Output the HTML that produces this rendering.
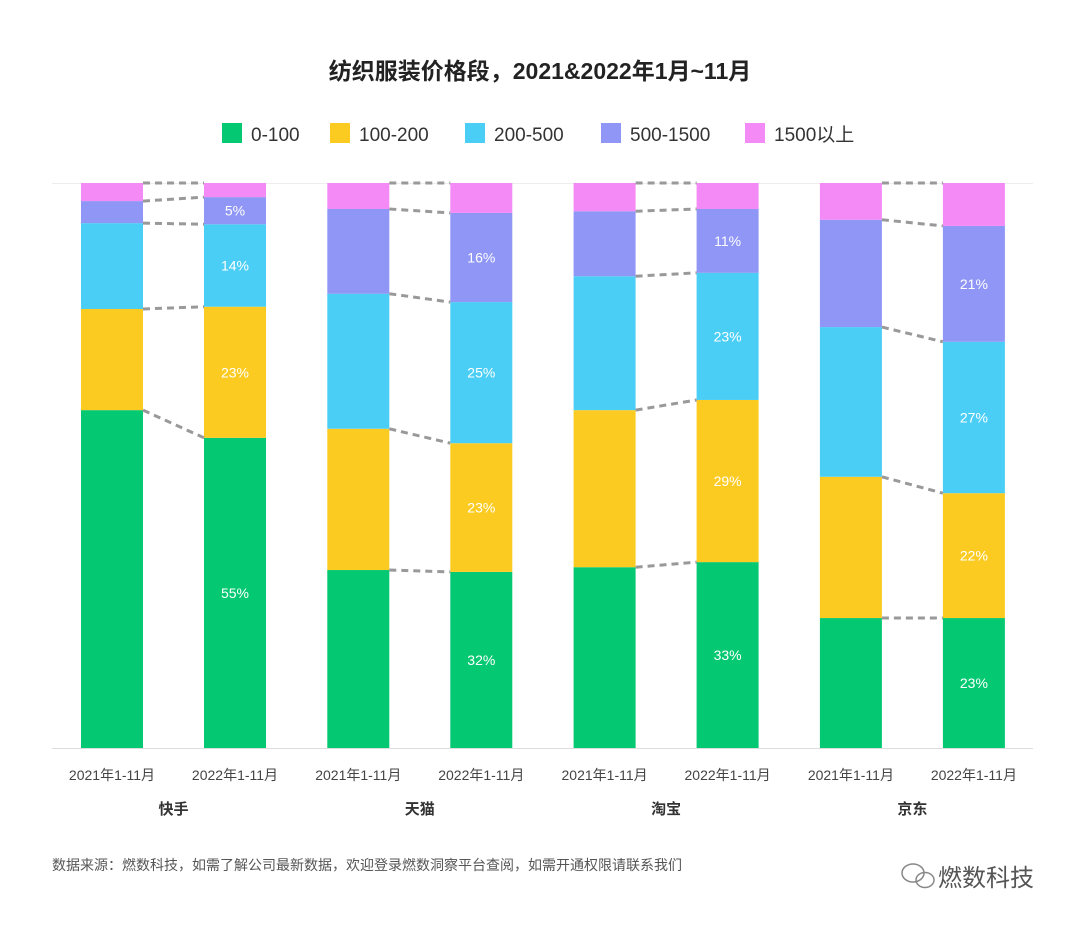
<!DOCTYPE html>
<html><head><meta charset="utf-8"><style>
body{margin:0;background:#fff;font-family:"Liberation Sans","Noto Sans CJK SC",sans-serif;}
#wrap{position:relative;width:1080px;height:925px;overflow:hidden;}
</style></head><body>
<div id="wrap">
<svg id="svg" width="1080" height="925" style="position:absolute;left:0;top:0">
<text x="540" y="79" text-anchor="middle" font-size="23" font-weight="bold" fill="#222">纺织服装价格段，2021&amp;2022年1月~11月</text>
<g id="legend"></g>
<line x1="52" y1="183.5" x2="1033" y2="183.5" stroke="#eee"/>
<line x1="52" y1="748.5" x2="1033" y2="748.5" stroke="#ddd"/>
<g id="bars"></g><g id="links"></g><g id="labels"></g>
<text x="52" y="870" font-size="14" fill="#555">数据来源：燃数科技，如需了解公司最新数据，欢迎登录燃数洞察平台查阅，如需开通权限请联系我们</text>
<g>
<ellipse cx="913" cy="873" rx="11" ry="9" fill="none" stroke="#888" stroke-width="1.5"/>
<ellipse cx="925" cy="880" rx="9" ry="7.5" fill="none" stroke="#888" stroke-width="1.5"/>
<text x="938" y="886" font-size="24" fill="#555">燃数科技</text></g>
</svg></div>
<script>
const groups=["快手","天猫","淘宝","京东"];
const periods=["2021年1-11月","2022年1-11月"];
const seriesNames=["0-100","100-200","200-500","500-1500","1500以上"];
const s0=[59.8,54.9,31.5,31.2,32.0,32.9,23.0,23.0];
const s1=[17.9,23.2,25.0,22.8,27.8,28.7,25.0,22.1];
const s2=[15.2,14.6,23.9,25.0,23.7,22.5,26.5,26.8];
const s3=[3.9,4.8,15.0,15.8,11.5,11.3,19.0,20.5];
const s4=[3.2,2.5,4.6,5.3,5.0,4.6,6.5,7.6];
const labels0=["","55%","","32%","","33%","","23%"];
const labels1=["","23%","","23%","","29%","","22%"];
const labels2=["","14%","","25%","","23%","","27%"];
const labels3=["","5%","","16%","","11%","","21%"];
const series=[s0,s1,s2,s3,s4];
const labs=[labels0,labels1,labels2,labels3];
const colors=["#05c872","#fccb22","#4bcef5","#8f96f5","#f48af5"];
const NS="http://www.w3.org/2000/svg";
const top0=183,bot=748,barW=62;
function y(v){return bot-(v/100)*(bot-top0);}
function xb(i){return 81+Math.floor(i/2)*246.3+(i%2)*123;}
function mk(t,a,p){const e=document.createElementNS(NS,t);for(const k in a)e.setAttribute(k,a[k]);document.getElementById(p).appendChild(e);return e;}
const n=s0.length;
const bounds=[];
for(let i=0;i<n;i++){
  let cum=0;const b=[];
  let tot=0;series.forEach(s=>tot+=s[i]);
  series.forEach((s,k)=>{
    const v=s[i]/tot*100;
    const r=mk("rect",{x:xb(i),y:y(cum+v),width:barW,height:y(cum)-y(cum+v),fill:colors[k]},"bars");
    
    
    if(k<4&&labs[k][i]){
      const t=mk("text",{x:xb(i)+barW/2,y:(y(cum)+y(cum+v))/2+5,"text-anchor":"middle","font-size":14,fill:"#fff"},"labels");
      t.textContent=labs[k][i];
      
      
    }
    cum+=v;b.push(cum);
  });
  bounds.push(b);
  const tl=mk("text",{x:xb(i)+barW/2,y:780,"text-anchor":"middle","font-size":14,fill:"#444"},"labels");
  tl.textContent=periods[i%2];
  
  
}
for(let g=0;g<groups.length;g++){
  const a=2*g,b=2*g+1;
  bounds[a].forEach((v,k)=>{
    const l=mk("line",{x1:xb(a)+barW,y1:y(v),x2:xb(b),y2:y(bounds[b][k]),stroke:"#999","stroke-width":3,"stroke-dasharray":"7 5"},"links");
    
    
  });
  const t=mk("text",{x:(xb(a)+xb(b)+barW)/2,y:814,"text-anchor":"middle","font-size":15,"font-weight":"bold",fill:"#333"},"labels");
  t.textContent=groups[g];
  
  
}
const lx=[222,330,465,601,745];
seriesNames.forEach((nm,k)=>{
  const r=mk("rect",{x:lx[k],y:123,width:20,height:20,fill:colors[k]},"legend");
  
  
  const t=mk("text",{x:lx[k]+29,y:141,"font-size":19,fill:"#333"},"legend");
  t.textContent=nm;
  
  
});
</script>
</body></html>
